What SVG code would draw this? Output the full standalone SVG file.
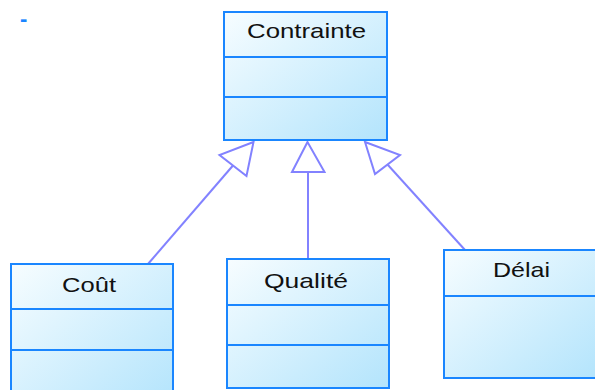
<svg xmlns="http://www.w3.org/2000/svg" width="595" height="390" viewBox="0 0 595 390">
<style>
.box{fill:url(#g);stroke:#1a86ff;stroke-width:2}
.sep{stroke:#1a86ff;stroke-width:2}
.lbl{font-family:"Liberation Sans",Arial,sans-serif;font-size:21px;fill:#111;text-anchor:middle}
.conn{stroke:#8282ff;stroke-width:2;fill:none}
.head{stroke:#8282ff;stroke-width:2;fill:#fff}
</style>
<defs>
<linearGradient id="g" x1="0" y1="0" x2="1" y2="1">
<stop offset="0" stop-color="#f7fdff"/>
<stop offset="1" stop-color="#b3e4fc"/>
</linearGradient>
</defs>
<rect width="595" height="390" fill="#fff"/>
<text x="20" y="26" style="font-family:'Liberation Sans',Arial,sans-serif;font-size:22px;font-weight:bold;fill:#1a86ff">-</text>
<g id="connectors">
<line class="conn" x1="148" y1="264" x2="233" y2="165.5"/>
<polygon class="head" points="253.5,142 219.5,155 246.5,176"/>
<line class="conn" x1="308" y1="259" x2="308" y2="172"/>
<polygon class="head" points="307.5,142 292,172 324.5,172"/>
<line class="conn" x1="465" y1="250" x2="387.5" y2="164.5"/>
<polygon class="head" points="365,142 400,155 375,174"/>
</g>
<g id="contrainte">
<rect class="box" x="224" y="12" width="163" height="128"/>
<line class="sep" x1="224" y1="57" x2="387" y2="57"/>
<line class="sep" x1="224" y1="97" x2="387" y2="97"/>
<text class="lbl" x="306.5" y="38.3" textLength="119" lengthAdjust="spacingAndGlyphs">Contrainte</text>
</g>
<g id="cout">
<rect class="box" x="11" y="264" width="162" height="140"/>
<line class="sep" x1="11" y1="309" x2="173" y2="309"/>
<line class="sep" x1="11" y1="350" x2="173" y2="350"/>
<text class="lbl" x="89" y="291.7" textLength="54" lengthAdjust="spacingAndGlyphs">Coût</text>
</g>
<g id="qualite">
<rect class="box" x="227" y="259" width="162" height="129"/>
<line class="sep" x1="227" y1="305" x2="389" y2="305"/>
<line class="sep" x1="227" y1="345" x2="389" y2="345"/>
<text class="lbl" x="306" y="288" textLength="84" lengthAdjust="spacingAndGlyphs">Qualité</text>
</g>
<g id="delai">
<rect class="box" x="444" y="250" width="155" height="128"/>
<line class="sep" x1="444" y1="296" x2="599" y2="296"/>
<text class="lbl" x="521.5" y="277" textLength="57" lengthAdjust="spacingAndGlyphs">Délai</text>
</g>
</svg>
